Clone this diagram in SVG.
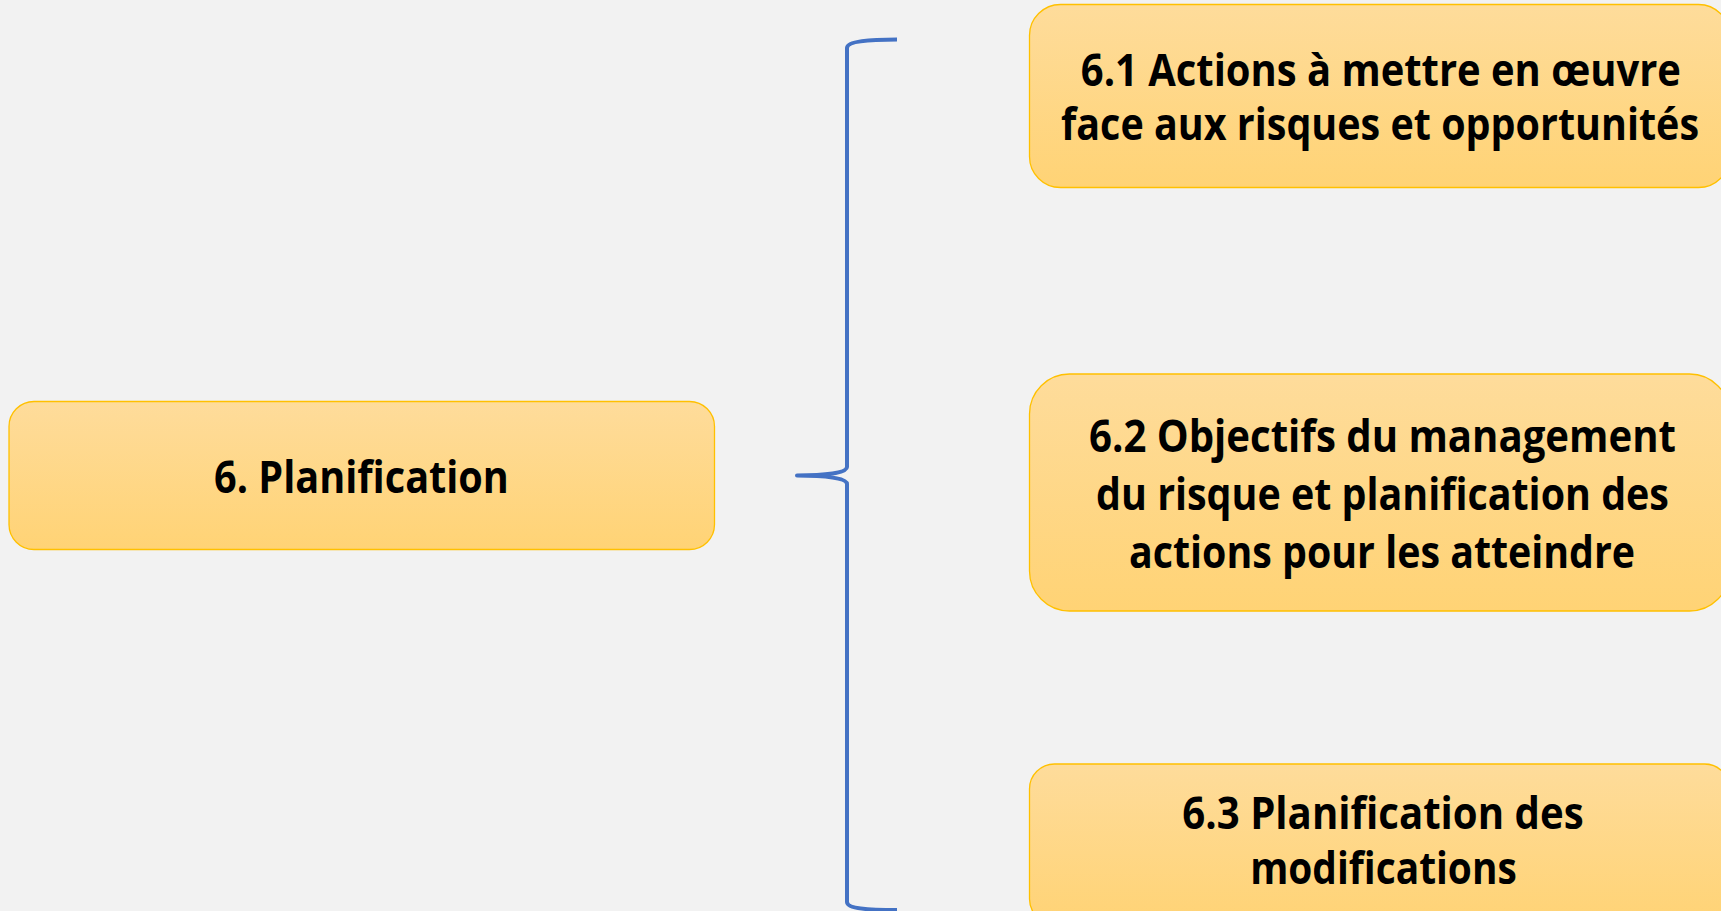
<svg xmlns="http://www.w3.org/2000/svg" width="1721" height="911" viewBox="0 0 1721 911">
  <defs>
    <linearGradient id="fillGold" x1="0" y1="0" x2="0" y2="1">
      <stop offset="0" stop-color="#FEDC9B"/>
      <stop offset="1" stop-color="#FFD375"/>
    </linearGradient>
    <style>
      .box { fill: url(#fillGold); stroke: #FFC000; stroke-width: 1.3; }
      .label { font-family: "Open Sans", "Liberation Sans", sans-serif; font-weight: 700; font-size: 44px; fill: #000000; text-anchor: middle; }
      .brace { fill: none; stroke: #4472C4; stroke-width: 4; stroke-linecap: butt; stroke-linejoin: round; }
    </style>
  </defs>

  <rect x="0" y="0" width="1721" height="911" fill="#F2F2F2"/>

  <!-- parent clause; labels are narrowed horizontally to a condensed look -->
  <g id="node-planification">
    <rect class="box" x="9" y="401.5" width="705.5" height="148" rx="25" ry="25"/>
    <g transform="translate(361.5 0) scale(0.88 1)">
      <text class="label" x="0" y="493" textLength="335" lengthAdjust="spacingAndGlyphs">6. Planification</text>
    </g>
  </g>

  <!-- curly brace grouping the sub-clauses -->
  <g id="connectors">
    <path class="brace" d="M 897 39.5 C 870 39.5 847 41 847 48 L 847 467 C 847 473 825 475.5 797 475.5 C 825 475.5 847 478 847 484 L 847 902 C 847 909 870 910 897 910"/>
  </g>

  <g id="node-6-1">
    <rect class="box" x="1029.5" y="4.5" width="700" height="183" rx="31" ry="31"/>
    <g transform="translate(1380 0) scale(0.88 1)">
      <text class="label" x="1" y="86" textLength="682" lengthAdjust="spacingAndGlyphs">6.1 Actions à mettre en œuvre</text>
      <text class="label" x="0" y="140" textLength="725" lengthAdjust="spacingAndGlyphs">face aux risques et opportunités</text>
    </g>
  </g>

  <g id="node-6-2">
    <rect class="box" x="1029.5" y="374" width="700" height="237" rx="40" ry="40"/>
    <g transform="translate(1382.5 0) scale(0.88 1)">
      <text class="label" x="0" y="452.5" textLength="667" lengthAdjust="spacingAndGlyphs">6.2 Objectifs du management</text>
      <text class="label" x="0" y="510.5" textLength="651" lengthAdjust="spacingAndGlyphs">du risque et planification des</text>
      <text class="label" x="-0.5" y="568" textLength="575" lengthAdjust="spacingAndGlyphs">actions pour les atteindre</text>
    </g>
  </g>

  <g id="node-6-3">
    <rect class="box" x="1029.5" y="764" width="700" height="160" rx="25" ry="25"/>
    <g transform="translate(1383 0) scale(0.88 1)">
      <text class="label" x="0" y="829.5" textLength="456" lengthAdjust="spacingAndGlyphs">6.3 Planification des</text>
      <text class="label" x="0.5" y="884.5" textLength="303" lengthAdjust="spacingAndGlyphs">modifications</text>
    </g>
  </g>
</svg>
